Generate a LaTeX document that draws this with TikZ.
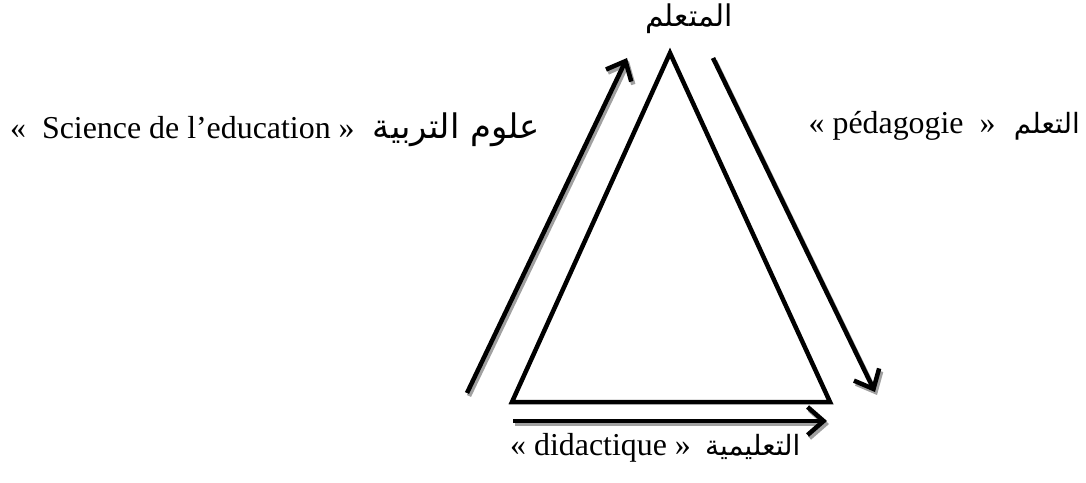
\documentclass[tikz,border=0pt]{standalone}
\usepackage{fontspec}
\setmainfont{Liberation Serif}
\newfontfamily\arabicfont[Script=Arabic]{DejaVu Sans}
\usetikzlibrary{arrows.meta,positioning}
\TeXXeTstate=1
\definecolor{shade}{RGB}{160,160,160}
\tikzset{
  side/.style={line width=4.5bp,line join=miter},
  flow/.style={line width=4.5bp,-{Straight Barb[length=16bp,width=28bp]}},
  flowshade/.style={flow,draw=shade,transform canvas={xshift=2bp,yshift=-3bp}},
  lbl/.style={inner sep=0pt,font=\fontsize{32}{36}\selectfont},
  ar/.style={inner sep=0pt,font=\arabicfont\fontsize{28}{36}\selectfont}
}

\begin{document}
\begin{tikzpicture}[x=1bp,y=-1bp]
  \useasboundingbox (0,0) rectangle (1086,483);
  \coordinate (T) at (670,53);
  \coordinate (L) at (512,402);
  \coordinate (R) at (830,402);

  % arrow ends
  \coordinate (up0) at (467,393);
  \coordinate (up1) at (627,58);
  \coordinate (dn0) at (713,58);
  \coordinate (dn1) at (875,392);
  \coordinate (bt0) at (513,421);
  \coordinate (bt1) at (827,421);

  \draw[side] (T)--(L)--(R)--cycle;

  % shadows first, then the arrows
  \draw[flowshade] (up0)--(up1);
  \draw[flowshade] (dn0)--(dn1);
  \draw[flowshade] (bt0)--(bt1);
  \draw[flow] (up0)--(up1);
  \draw[flow] (dn0)--(dn1);
  \draw[flow] (bt0)--(bt1);

  % labels
  \node[ar,anchor=base,font=\arabicfont\fontsize{30}{36}\selectfont] (learner) at (689,27) {\beginR المتعلم\endR};
  \node[lbl,anchor=base west] (science) at (10,139) {«\ \ Science de l’education »};
  \node[ar,base right=18bp of science,font=\arabicfont\fontsize{34}{40}\selectfont] (sciencear) {\beginR علوم التربية\endR};
  \node[ar,anchor=base east] (pedagoar) at (1080,134) {\beginR التعلم\endR};
  \node[lbl,base left=18bp of pedagoar] (pedago) {« pédagogie \ »};
  \node[lbl,anchor=base west] (didact) at (510,455) {« didactique »};
  \node[ar,base right=14bp of didact] (didactar) {\beginR التعليمية\endR};
\end{tikzpicture}
\end{document}
